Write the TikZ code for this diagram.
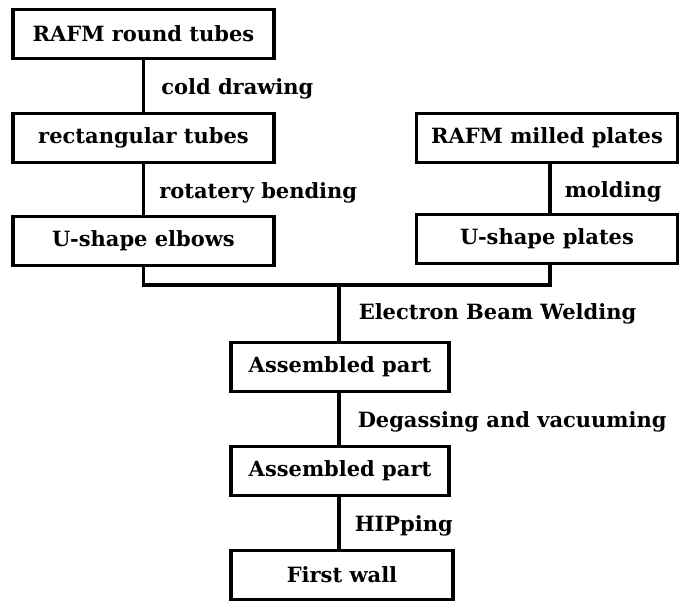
\documentclass[tikz,border=0pt]{standalone}
\usepackage{fontspec}
\setmainfont{DejaVu Serif}
\begin{document}
\begin{tikzpicture}[x=1pt, y=-1pt, line width=3.5pt, box_style/.style={draw=black,fill=white,rectangle,minimum width=261pt,minimum height=49pt,inner sep=0pt,font=\fontsize{21}{24}\selectfont\bfseries}, small_box_style/.style={box_style,minimum width=218pt}, edge_style/.style={draw=black,line width=3.5pt}, step_label/.style={anchor=west,inner sep=0pt,yshift=-3pt,font=\fontsize{21}{24}\selectfont\bfseries}]
      \useasboundingbox (0,0) rectangle (683,603);
      \draw
        (143.5, 34) node[box_style] (round){RAFM round tubes}
        (143.5, 138) node[box_style] (rect){rectangular tubes}
        (143.5, 241) node[box_style] (elbows){U-shape elbows}
        (547, 138) node[box_style] (milled){RAFM milled plates}
        (547, 239) node[box_style] (plates){U-shape plates}
        (340, 367) node[small_box_style] (asm1){Assembled part}
        (340, 471) node[small_box_style] (asm2){Assembled part}
        (342, 575) node[small_box_style, minimum width=222pt] (wall){First wall};
      \coordinate (join) at (339, 285);
      \begin{scope}[-]
        \draw[edge_style] (round) -- node[step_label, xshift=16pt] {cold drawing} (rect);
        \draw[edge_style] (rect) -- node[step_label, xshift=14pt] {rotatery bending} (elbows);
        \draw[edge_style] ([xshift=3pt]milled.south) -- node[step_label, xshift=13pt] {molding} ([xshift=3pt]plates.north);
        \draw[edge_style] (elbows.south) |- (join) -| ([xshift=3pt]plates.south);
        \draw[edge_style] (join) -- node[step_label, xshift=18pt, yshift=2pt] {Electron Beam Welding} (join |- asm1.north);
        \draw[edge_style] (join |- asm1.south) -- node[step_label, xshift=17pt] {Degassing and vacuuming} (join |- asm2.north);
        \draw[edge_style] (join |- asm2.south) -- node[step_label, xshift=14pt] {HIPping} (join |- wall.north);
      \end{scope}
    \end{tikzpicture}
\end{document}
